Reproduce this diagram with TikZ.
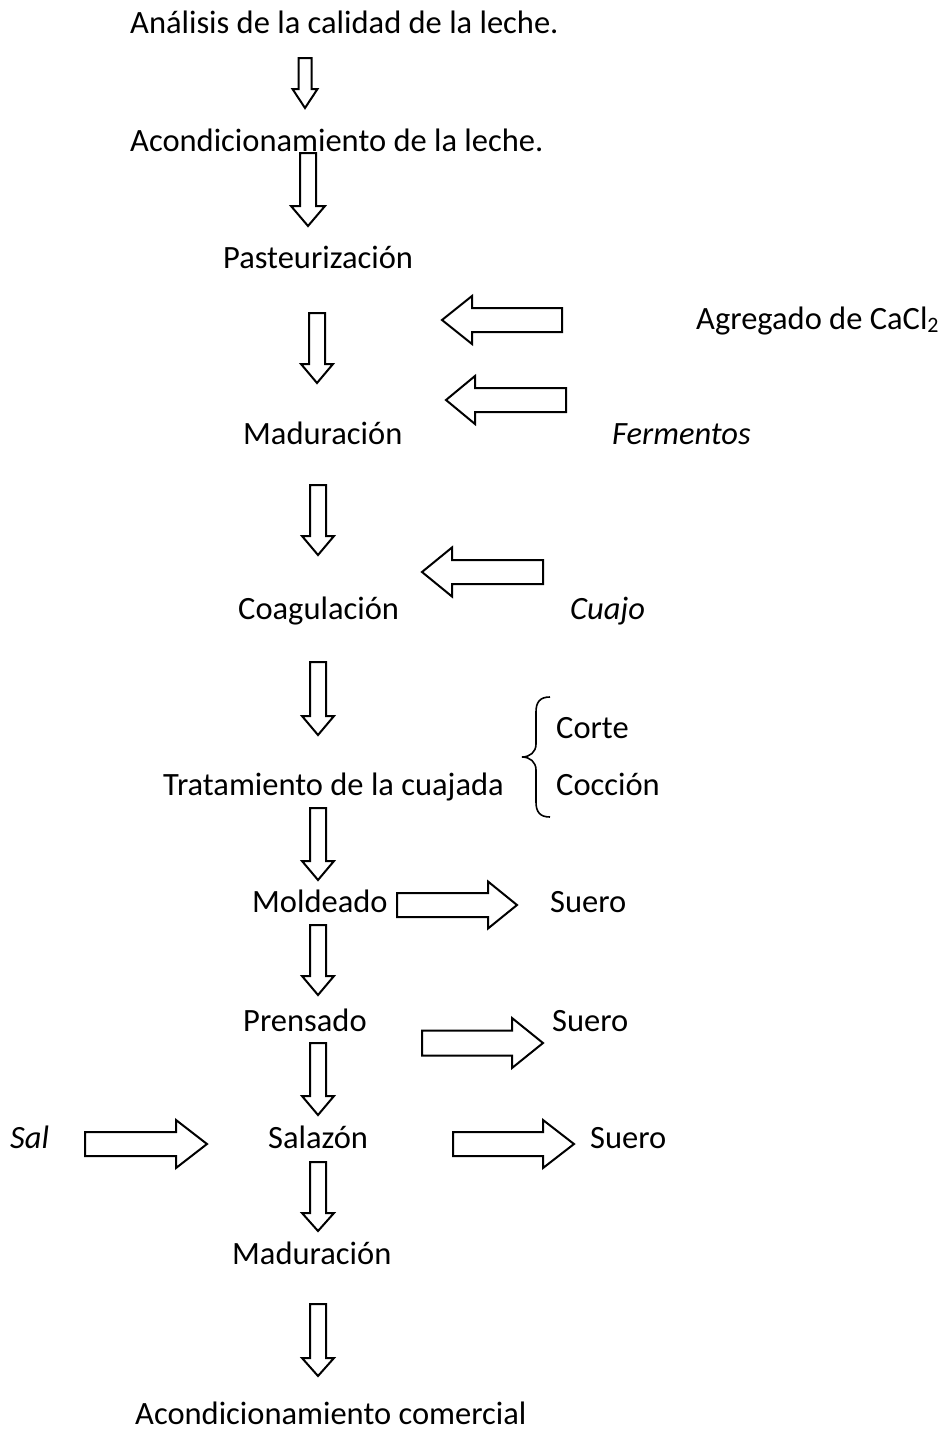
\documentclass[tikz,border=0pt]{standalone}
\usepackage{fontspec}
\setmainfont{Carlito}
\newcommand\blkdown[6]{% cx, top, tip, shaft half, head half, head length
  \draw[blk] ({#1-#4},#2) -- ({#1+#4},#2) -- ({#1+#4},{#3-#6}) -- ({#1+#5},{#3-#6}) -- (#1,#3)
    -- ({#1-#5},{#3-#6}) -- ({#1-#4},{#3-#6}) -- cycle;}
\newcommand\blkright[6]{% cy, left, tip, shaft half, head half, head base
  \draw[blk] (#2,{#1-#4}) -- (#6,{#1-#4}) -- (#6,{#1-#5}) -- (#3,#1) -- (#6,{#1+#5})
    -- (#6,{#1+#4}) -- (#2,{#1+#4}) -- cycle;}
\begin{document}
\begin{tikzpicture}[x=1pt,y=-1pt,
  blk/.style={draw=black,line width=2pt,line join=miter,fill=white},
  lbl/.style={anchor=base west,inner sep=0pt,font=\fontsize{32.5}{40}\selectfont},
  ilbl/.style={lbl,font=\fontsize{32.5}{40}\selectfont\itshape}]
\useasboundingbox (0,0) rectangle (944,1446);
\fill[white] (0,0) rectangle (944,1446);
% texts
\node[lbl] (analisis) at (130,33) {Análisis de la calidad de la leche.};
\node[lbl] (acond) at (130,151) {Acondicionamiento de la leche.};
\node[lbl] (past) at (223,268) {Pasteurización};
\node[lbl] (cacl) at (696,329) {Agregado de CaCl{\fontsize{22}{24}\selectfont\raisebox{-3pt}{2}}};
\node[lbl] (mad1) at (243,444) {Maduración};
\node[ilbl] (ferm) at (612,444) {Fermentos};
\node[lbl] (coag) at (238,619) {Coagulación};
\node[ilbl] (cuajo) at (570,619) {Cuajo};
\node[lbl] (corte) at (556,738) {Corte};
\node[lbl] (coccion) at (556,795) {Cocción};
\node[lbl] (trat) at (163,795) {Tratamiento de la cuajada};
\node[lbl] (mold) at (252,912) {Moldeado};
\node[lbl] (suero1) at (550,912) {Suero};
\node[lbl] (prens) at (243,1031) {Prensado};
\node[lbl] (suero2) at (552,1031) {Suero};
\node[ilbl] (sal) at (10,1148) {Sal};
\node[lbl] (salazon) at (268,1148) {Salazón};
\node[lbl] (suero3) at (590,1148) {Suero};
\node[lbl] (mad2) at (232,1264) {Maduración};
\node[lbl] (acomer) at (135,1424) {Acondicionamiento comercial};
% down arrows
\blkdown{305}{58}{108}{6.5}{12.5}{19}
\blkdown{308}{153}{226}{8}{17}{20}
\blkdown{317}{313}{383}{8}{16}{19}
\blkdown{318}{485}{555}{8}{16}{19}
\blkdown{318}{662}{735}{8}{16}{19}
\blkdown{318}{808}{880}{8}{16}{19}
\blkdown{318}{925}{995}{8}{16}{19}
\blkdown{318}{1043}{1115}{8}{16}{19}
\blkdown{318}{1162}{1231}{8}{16}{18}
\blkdown{318}{1304}{1376}{8}{16}{18}
% left arrows (leftward: tip < base < right end)
\blkright{320}{562}{442}{12}{24}{472}
\blkright{400}{566}{446}{12}{24}{475}
\blkright{572}{543}{422}{12}{24.5}{452}
% right arrows
\blkright{905}{397}{517}{12}{23.5}{488}
\blkright{1043}{422}{543}{12.5}{25}{512}
\blkright{1144}{85}{207}{12}{24}{176}
\blkright{1144}{453}{574}{12}{24}{543}
% brace
\draw[line width=1.6pt] (550,697) .. controls (540,697) and (536,702) .. (536,712) -- (536,744)
  .. controls (536,752) and (530,757) .. (522,757) .. controls (530,757) and (536,762) .. (536,770)
  -- (536,802) .. controls (536,812) and (540,817) .. (550,817);
\end{tikzpicture}
\end{document}
